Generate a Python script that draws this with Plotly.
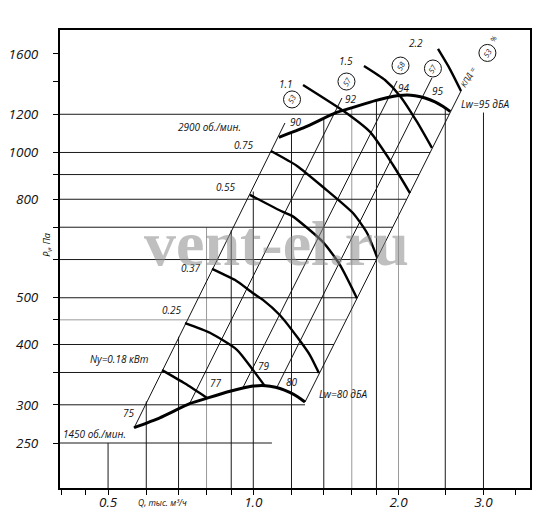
import numpy as np
import plotly.graph_objects as go

# ---------------- axes ----------------
q_range = [0.3975, 3.746]
p_range = [201.7, 1794.0]
x_tick_vals = [0.4, 0.45, 0.5, 0.6, 0.7, 0.8, 0.9, 1.0, 1.2, 1.4, 1.6, 1.8, 2.0, 2.5, 3.0, 3.5]
x_tick_text = ['', '', '0.5', '', '', '', '', '1.0', '', '', '', '', '2.0', '', '3.0', '']
y_tick_vals = [250, 300, 350, 400, 450, 500, 600, 700, 800, 900, 1000, 1200, 1400, 1600]
y_tick_text = ['250', '300', '', '400', '', '500', '', '', '800', '', '1000', '1200', '', '1600']

# ---------------- partial grid ----------------
h_grid_p = [250, 300, 350, 400, 450, 500, 600, 700, 800, 900, 1000, 1200]
h_grid_q_end = [1.093, 1.28, 1.375, 1.47, 1.56, 1.644, 1.80, 1.945, 2.08, 2.205, 2.325, 2.547]
h_grid_gray = [False, False, False, False, True, False, False, False, False, False, False, False]
v_grid_q = [0.5, 0.6, 0.7, 0.8, 0.9, 1.0, 1.2, 1.4, 1.6, 1.8, 2.0, 2.5, 3.0]
v_grid_p_top = [250, 305, 415, 700, 690, 830, 1100, 1173, 1238, 1283, 1312, 1230, 1210]
v_grid_gray = [False, False, False, True, False, False, False, False, True, False, True, False, False]

# ---------------- fan curves ----------------
q_1450 = [0.566, 0.64, 0.74, 0.805, 0.895, 0.952, 1.0, 1.042, 1.083, 1.136, 1.19, 1.238, 1.28]
p_1450 = [269, 282, 302, 310, 320, 325, 328, 329, 327.7, 324.3, 318.2, 311.4, 304]
q_2900 = [1.13, 1.28, 1.48, 1.61, 1.79, 1.9, 2.0, 2.085, 2.165, 2.27, 2.38, 2.475, 2.56]
p_2900 = [1075, 1128, 1208, 1240, 1281, 1300, 1312, 1316, 1311, 1297, 1273, 1245, 1216]

# ---------------- rays (noise / efficiency lines) ----------------
ray_q_lo = [0.566, 0.739, 0.952, 1.12, 1.28]
ray_p_lo = [268.6, 302.6, 325.9, 326.6, 304.0]
ray_q_hi = [1.163, 1.527, 1.986, 2.346, 2.695]
ray_p_hi = [1151, 1297, 1407, 1427, 1341]

# ---------------- motor power lines ----------------
pw_018_q = [0.647, 0.722, 0.802]
pw_018_p = [354, 332, 310]
pw_025_q = [0.722, 0.813, 0.925, 0.999, 1.057]
pw_025_p = [443, 423, 390, 354, 328]
pw_037_q = [0.821, 0.917, 0.999, 1.047, 1.136, 1.232, 1.311, 1.368]
pw_037_p = [574, 544, 511, 495, 460, 415, 380, 349]
pw_055_q = [0.984, 1.152, 1.203, 1.395, 1.512, 1.64]
pw_055_p = [817, 753, 739, 652, 585, 499]
pw_075_q = [1.088, 1.232, 1.395, 1.609, 1.721, 1.805]
pw_075_p = [1007, 938, 848, 749, 681, 607]
pw_110_q = [1.268, 1.549, 1.746, 1.948, 2.112]
pw_110_p = [1380, 1213, 1103, 942, 824]
pw_150_q = [1.696, 1.875, 2.014, 2.185, 2.346]
pw_150_p = [1511, 1413, 1310, 1157, 1022]
pw_220_q = [2.415, 2.556, 2.695]
pw_220_p = [1639, 1489, 1341]

# ---------------- labels ----------------
label_text = ['2900 об./мин.', '0.75', '0.55', '0.37', '0.25', 'Ny=0.18 кВт', '75',
              '1450 об./мин.', '77', '79', '80', 'Lw=80 дБА', 'Lw=95 дБА',
              '90', '92', '94', '95', '1.1', '1.5', '2.2']
label_q = [0.8095, 0.9566, 0.8778, 0.7428, 0.6783, 0.5268, 0.5526,
           0.4676, 0.8369, 1.0524, 1.2028, 1.5415, 3.0354,
           1.2262, 1.5942, 2.053, 2.4145, 1.1688, 1.5563, 2.1742]
label_p = [1129, 1036, 848, 576, 472, 373, 288.5,
           261, 333, 361, 334.5, 316, 1260,
           1157, 1291, 1361, 1341, 1387, 1547, 1686]

eff_q = [1.203, 1.560, 2.019, 2.357, 3.057]
eff_p = [1288, 1403, 1514, 1493, 1608]
eff_text = ['53', '57', '58', '57', '53']

FONT = 'Open Sans'
fig = go.Figure()


def seg_trace(xs, ys, color, width):
    fig.add_trace(go.Scatter(x=xs, y=ys, mode='lines', hoverinfo='skip',
                             line=dict(color=color, width=width), showlegend=False))


# grid lines
for gray in (True, False):
    xs, ys = [], []
    for p, qe, g in zip(h_grid_p, h_grid_q_end, h_grid_gray):
        if g == gray:
            xs += [q_range[0], qe, None]
            ys += [p, p, None]
    for q, pt, g in zip(v_grid_q, v_grid_p_top, v_grid_gray):
        if g == gray:
            xs += [q, q, None]
            ys += [p_range[0], pt, None]
    seg_trace(xs, ys, '#9a9a9a' if gray else '#1a1a1a', 1)

# rays
xs, ys = [], []
for a, b, c, d in zip(ray_q_lo, ray_p_lo, ray_q_hi, ray_p_hi):
    xs += [a, c, None]
    ys += [b, d, None]
seg_trace(xs, ys, '#111111', 1)

# power lines
for qq, pp in [(pw_018_q, pw_018_p), (pw_025_q, pw_025_p), (pw_037_q, pw_037_p),
               (pw_055_q, pw_055_p), (pw_075_q, pw_075_p), (pw_110_q, pw_110_p),
               (pw_150_q, pw_150_p), (pw_220_q, pw_220_p)]:
    fig.add_trace(go.Scatter(x=qq, y=pp, mode='lines', hoverinfo='skip', showlegend=False,
                             line=dict(color='#000', width=2.4, shape='spline', smoothing=0.6)))

# fan curves
for qq, pp in [(q_1450, p_1450), (q_2900, p_2900)]:
    fig.add_trace(go.Scatter(x=qq, y=pp, mode='lines', hoverinfo='skip', showlegend=False,
                             line=dict(color='#000', width=3, shape='spline', smoothing=0.6)))

# efficiency circles
fig.add_trace(go.Scatter(x=eff_q, y=eff_p, mode='markers', hoverinfo='skip', showlegend=False,
                         marker=dict(symbol='circle', size=17, color='white',
                                     line=dict(color='#111', width=1))))

ann = []
for t, q, p in zip(label_text, label_q, label_p):
    ann.append(dict(x=np.log10(q), y=np.log10(p), xref='x', yref='y', text=t, showarrow=False,
                    xanchor='center', yanchor='middle',
                    font=dict(family=FONT, size=10, color='#111', style='italic')))
for t, q, p in zip(eff_text, eff_q, eff_p):
    ann.append(dict(x=np.log10(q), y=np.log10(p), xref='x', yref='y', text=t, showarrow=False,
                    xanchor='center', yanchor='middle', textangle=-60,
                    font=dict(family=FONT, size=7.5, color='#111', style='italic')))
ann.append(dict(x=np.log10(2.786), y=np.log10(1434), xref='x', yref='y', text='КПД =',
                showarrow=False, textangle=-60, xanchor='center', yanchor='middle',
                font=dict(family=FONT, size=8, color='#111', style='italic')))
ann.append(dict(x=np.log10(3.154), y=np.log10(1719), xref='x', yref='y', text='%',
                showarrow=False, textangle=-60, xanchor='center', yanchor='middle',
                font=dict(family=FONT, size=7, color='#111', style='italic')))
# axis titles
ann.append(dict(x=-0.028, y=0.5306, xref='paper', yref='paper', text='P<sub>v</sub>, Па',
                showarrow=False, textangle=-90, xanchor='center', yanchor='middle',
                font=dict(family=FONT, size=9, color='#111', style='italic')))
ann.append(dict(x=0.2191, y=-0.0306, xref='paper', yref='paper', text='Q, тыс. м³/ч',
                showarrow=False, xanchor='center', yanchor='middle',
                font=dict(family=FONT, size=8.5, color='#111', style='italic')))
# watermark
ann.append(dict(x=0.46, y=0.533, xref='paper', yref='paper', text='<b>vent-el.ru</b>',
                showarrow=False, opacity=0.55, xanchor='center', yanchor='middle',
                font=dict(family='Liberation Serif', size=64, color='#8c8c8c')))

axis_common = dict(type='log', showgrid=False, zeroline=False, showline=True, linewidth=2,
                   linecolor='#000', mirror=True, ticks='outside', ticklen=5, tickwidth=1,
                   tickcolor='#000', automargin=False,
                   tickfont=dict(family=FONT, size=13.5, color='#111', style='italic'))

# the page places the figure 8 px from its top-left corner
fig.update_layout(
    width=538, height=505,
    margin=dict(l=52, r=16, t=22, b=25),
    paper_bgcolor='white', plot_bgcolor='white',
    showlegend=False,
    xaxis=dict(range=[np.log10(q_range[0]), np.log10(q_range[1])],
               tickvals=x_tick_vals, ticktext=x_tick_text, ticklabelstandoff=-4, **axis_common),
    yaxis=dict(range=[np.log10(p_range[0]), np.log10(p_range[1])],
               tickvals=y_tick_vals, ticktext=y_tick_text, ticklabelstandoff=12, **axis_common),
    annotations=ann,
)

fig.write_html('out.html')
